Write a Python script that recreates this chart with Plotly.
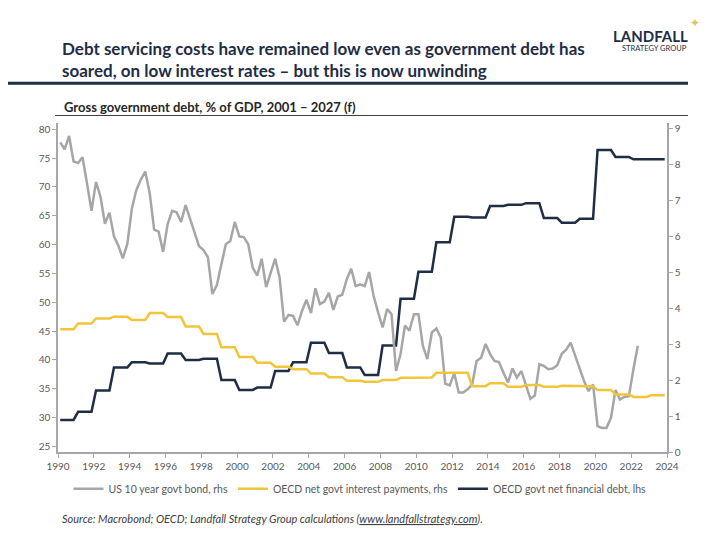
import pandas as pd
import plotly.graph_objects as go

# ---------------- data ----------------
# US 10 year govt bond yield, quarterly from 1990Q1 (rhs, %)
us10y = [
    8.60, 8.41, 8.78, 8.07, 8.03, 8.19, 7.47, 6.70, 7.50, 7.10,
    6.34, 6.65, 5.99, 5.73, 5.38, 5.78, 6.76, 7.27, 7.56, 7.79,
    7.18, 6.18, 6.12, 5.56, 6.33, 6.70, 6.66, 6.39, 6.86, 6.49,
    6.09, 5.72, 5.61, 5.41, 4.39, 4.64, 5.22, 5.77, 5.86, 6.39,
    5.99, 5.97, 5.77, 5.12, 4.90, 5.37, 4.58, 5.00, 5.37, 4.85,
    3.62, 3.81, 3.78, 3.52, 3.91, 4.23, 3.86, 4.55, 4.11, 4.18,
    4.42, 3.95, 4.32, 4.37, 4.80, 5.09, 4.61, 4.66, 4.61, 5.00,
    4.34, 3.88, 3.46, 3.97, 3.83, 2.25, 2.72, 3.51, 3.37, 3.83,
    3.83, 2.95, 2.58, 3.32, 3.43, 3.18, 1.90, 1.85, 2.19, 1.65,
    1.65, 1.74, 1.88, 2.53, 2.62, 3.00, 2.72, 2.53, 2.50, 2.20,
    1.93, 2.32, 2.07, 2.25, 1.83, 1.48, 1.57, 2.44, 2.39, 2.30,
    2.32, 2.41, 2.73, 2.84, 3.04, 2.67, 2.34, 1.97, 1.69, 1.88,
    0.72, 0.67, 0.67, 0.95, 1.72, 1.46, 1.53, 1.55, 2.30, 2.95,
]

years = list(range(1990, 2024))

# OECD net govt interest payments, % of GDP, annual (rhs)
oecd_interest = [
    3.41, 3.57, 3.71, 3.76, 3.67, 3.86, 3.75, 3.49, 3.28, 2.91,
    2.64, 2.48, 2.37, 2.30, 2.18, 2.08, 1.98, 1.95, 2.00, 2.06,
    2.07, 2.20, 2.20, 1.83, 1.91, 1.81, 1.86, 1.81, 1.84, 1.83,
    1.72, 1.60, 1.53, 1.58,
]

# OECD govt net financial debt, % of GDP, annual (lhs)
oecd_debt = [
    29.6, 31.0, 34.7, 38.7, 39.6, 39.4, 41.1, 40.0, 40.2, 36.5,
    34.8, 35.2, 38.1, 39.6, 43.0, 41.2, 38.7, 37.4, 42.5, 50.6,
    55.3, 60.4, 64.85, 64.7, 66.7, 66.9, 67.2, 64.6, 63.8, 64.5,
    76.4, 75.2, 74.8, 74.8,
]

names = [
    "US 10 year govt bond, rhs",
    "OECD net govt interest payments, rhs",
    "OECD govt net financial debt, lhs",
]

left_ticks = [25, 30, 35, 40, 45, 50, 55, 60, 65, 70, 75, 80]
right_ticks = [0, 1, 2, 3, 4, 5, 6, 7, 8, 9]

# ---------------- helpers ----------------
def quarter_mid(periods):
    return periods.to_timestamp(how="start") + pd.Timedelta(days=45)

q_us = quarter_mid(pd.period_range("1990Q1", periods=len(us10y), freq="Q"))
q_ann = quarter_mid(pd.period_range(f"{years[0]}Q1", periods=4 * len(years), freq="Q"))

def to_quarters(vals):
    out = []
    for v in vals:
        out += [v] * 4
    return out

NAVY = "#1f2d45"
GREY = "#a6a6a6"
GOLD = "#f0c53a"
TXT = "#595959"
FONT = "Lato"

OFF = 8  # page body margin of the browser
W, H = 720 - OFF, 540 - OFF
L, R, T, B = 58 - OFF, 667 - OFF, 123 - OFF, 452.3 - OFF

def px(x):
    return (x - OFF - L) / (R - L)

def py(y):
    return (B - (y - OFF)) / (B - T)

fig = go.Figure()
fig.add_trace(go.Scatter(x=q_us, y=us10y, name=names[0], mode="lines",
                         line=dict(color=GREY, width=2.5), yaxis="y2"))
fig.add_trace(go.Scatter(x=q_ann, y=to_quarters(oecd_interest), name=names[1], mode="lines",
                         line=dict(color=GOLD, width=2.5), yaxis="y2"))
fig.add_trace(go.Scatter(x=q_ann, y=to_quarters(oecd_debt), name=names[2], mode="lines",
                         line=dict(color=NAVY, width=2.5), yaxis="y"))

axis_common = dict(showgrid=False, zeroline=False, showline=True, linecolor=GREY,
                   linewidth=1.5, ticks="outside", ticklen=4, tickcolor=GREY,
                   tickfont=dict(family=FONT, size=10, color=TXT))

fig.update_layout(
    width=W, height=H,
    paper_bgcolor="white", plot_bgcolor="white",
    margin=dict(l=L, r=W - R, t=T, b=H - B, autoexpand=False),
    xaxis=dict(type="date", range=["1990-01-01", "2024-01-01"], dtick="M24",
               tick0="1990-01-01", tickformat="%Y", **axis_common),
    yaxis=dict(range=[24.03, 81.1], tickvals=left_ticks, **axis_common),
    yaxis2=dict(range=[0, 9.14], tickvals=right_ticks, overlaying="y", side="right",
                **axis_common),
    showlegend=True,
    legend=dict(orientation="h", x=px(360), xanchor="center",
                y=py(489), yanchor="middle",
                font=dict(family=FONT, size=10.5, color=TXT), itemwidth=30,
                tracegroupgap=0, bgcolor="rgba(0,0,0,0)"),
)

ann = [
    dict(text="Debt servicing costs have remained low even as government debt has<br>"
              "soared, on low interest rates – but this is now unwinding",
         x=px(60), y=py(36), xanchor="left", yanchor="top", align="left",
         font=dict(family=FONT, size=17, color=NAVY, weight="bold")),
    dict(text="Gross government debt, % of GDP, 2001 – 2027 (f)",
         x=px(62), y=py(107), xanchor="left", yanchor="middle",
         font=dict(family=FONT, size=13, color="#262626", weight="bold")),
    dict(text="LANDFALL", x=px(690), y=py(36), xanchor="right", yanchor="middle",
         font=dict(family=FONT, size=15, color=NAVY, weight="bold")),
    dict(text="STRATEGY GROUP", x=px(689), y=py(48), xanchor="right", yanchor="middle",
         font=dict(family=FONT, size=7.5, color=NAVY)),
    dict(text="✦", x=px(695), y=py(23), xanchor="center", yanchor="middle",
         font=dict(family="DejaVu Sans", size=12, color="#e8c25a")),
    dict(text="<i>Source: Macrobond; OECD; Landfall Strategy Group calculations "
              "(<u>www.landfallstrategy.com</u>).</i>",
         x=px(60), y=py(519), xanchor="left", yanchor="middle",
         font=dict(family=FONT, size=11, color="#404040")),
]
for a in ann:
    a.update(xref="paper", yref="paper", showarrow=False)
fig.update_layout(annotations=ann)

fig.add_shape(type="line", xref="paper", yref="paper", x0=px(0), x1=px(688),
              y0=py(83.3), y1=py(83.3), line=dict(color=NAVY, width=3))
fig.add_shape(type="line", xref="paper", yref="paper", x0=px(55), x1=px(688),
              y0=py(115.5), y1=py(115.5), line=dict(color="#404040", width=1))

fig.write_html("out.html")
